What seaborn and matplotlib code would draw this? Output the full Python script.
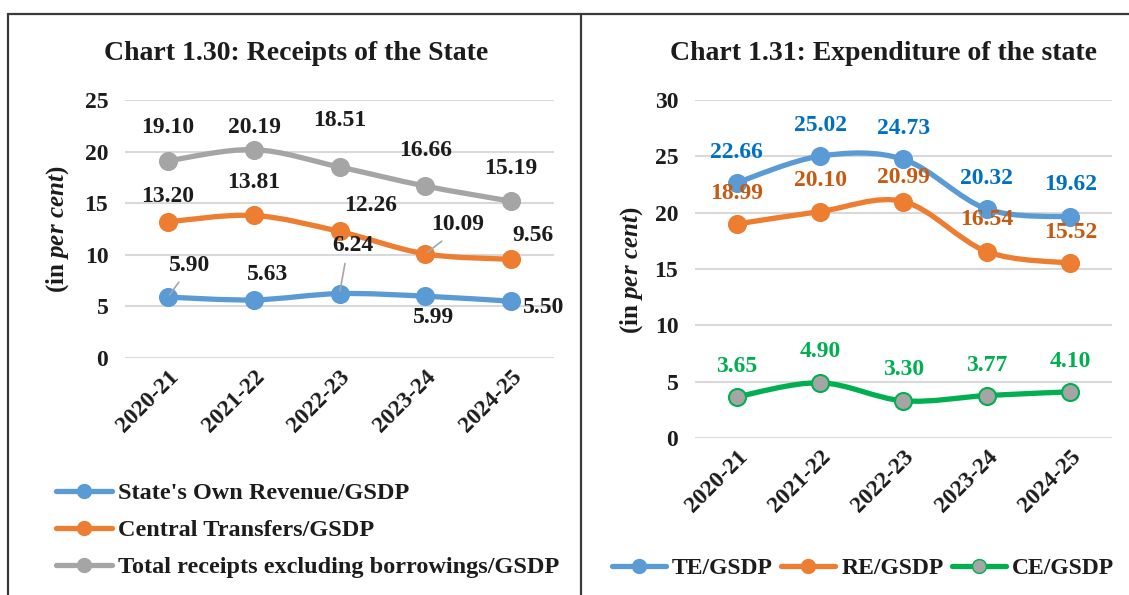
import numpy as np
import matplotlib
matplotlib.use("Agg")
import matplotlib.pyplot as plt
import seaborn as sns
from matplotlib.path import Path
from matplotlib.patches import PathPatch
from matplotlib.lines import Line2D

# -----------------------------
# Data
# -----------------------------
years = ["2020-21", "2021-22", "2022-23", "2023-24", "2024-25"]

own_revenue = [5.90, 5.63, 6.24, 5.99, 5.50]
central_transfers = [13.20, 13.81, 12.26, 10.09, 9.56]
total_receipts = [19.10, 20.19, 18.51, 16.66, 15.19]

te_gsdp = [22.66, 25.02, 24.73, 20.32, 19.62]
re_gsdp = [18.99, 20.10, 20.99, 16.54, 15.52]
ce_gsdp = [3.65, 4.90, 3.30, 3.77, 4.10]

# -----------------------------
# Style
# -----------------------------
sns.set_style("white")
plt.rcParams['font.family'] = ['Liberation Serif', 'DejaVu Serif']
plt.rcParams['font.weight'] = 'bold'
plt.rcParams['mathtext.fontset'] = 'custom'
plt.rcParams['mathtext.it'] = 'Liberation Serif:italic:bold'
plt.rcParams['mathtext.rm'] = 'Liberation Serif:bold'

BLUE = "#5B9BD5"
ORANGE = "#ED7D31"
GRAY = "#A5A5A5"
GREEN = "#00B050"
INK = "#1c1c1c"
FS = 17


def smooth_path(ys, t=1/6):
    # Excel-like smoothed line (cubic bezier through the points)
    pts = np.column_stack([np.arange(len(ys)), ys]).astype(float)
    n = len(pts)
    verts = [pts[0]]
    codes = [Path.MOVETO]
    for i in range(n - 1):
        p0 = pts[max(i - 1, 0)]
        p1 = pts[i]
        p2 = pts[i + 1]
        p3 = pts[min(i + 2, n - 1)]
        verts += [p1 + (p2 - p0) * t, p2 - (p3 - p1) * t, p2]
        codes += [Path.CURVE4] * 3
    return Path(verts, codes)


def draw_series(ax, vals, color, face=None, z=3):
    ax.add_patch(PathPatch(smooth_path(vals), facecolor='none', edgecolor=color,
                           lw=3.8, capstyle='round', zorder=z))
    sns.scatterplot(x=np.arange(len(vals)), y=vals, ax=ax, s=150,
                    color=face or color, edgecolor=color, linewidth=1.5,
                    zorder=z + 1, legend=False)


def label_series(ax, vals, offsets, color, leaders=()):
    for i, (v, (dx, dy)) in enumerate(zip(vals, offsets)):
        kw = {}
        if i in leaders:
            kw['arrowprops'] = dict(arrowstyle='-', color='#A6A6A6', lw=1.2,
                                    shrinkA=3, shrinkB=2, relpos=(0.35, 0.0))
        ax.annotate(f"{v:.2f}", (i, v), xytext=(dx, dy), textcoords='offset pixels',
                    ha='center', va='center', fontsize=FS, fontweight='bold',
                    color=color, zorder=6, **kw)


def style_axes(ax, ymax):
    ax.set_xlim(-0.5, len(years) - 0.5)
    ax.set_ylim(0, ymax)
    ax.set_yticks(np.arange(0, ymax + 1, 5))
    ax.set_xticks(np.arange(len(years)))
    ax.set_xticklabels(years, rotation=45, ha='right', rotation_mode='anchor')
    ax.tick_params(axis='both', length=0, labelsize=FS, labelcolor=INK)
    ax.tick_params(axis='y', pad=12)
    ax.tick_params(axis='x', pad=6)
    for lab in ax.get_xticklabels() + ax.get_yticklabels():
        lab.set_fontweight('bold')
    ax.grid(axis='y', color='#D9D9D9', lw=1.5)
    ax.set_axisbelow(True)
    sns.despine(ax=ax, left=True, bottom=True)
    ax.set_xlabel("")
    ax.set_ylabel("")


fig = plt.figure(figsize=(11.29, 5.95), dpi=100)

# -----------------------------
# Chart 1.30
# -----------------------------
ax1 = fig.add_axes([125 / 1129, 1 - 358 / 595, 429 / 1129, 258 / 595])
draw_series(ax1, own_revenue, BLUE, z=5)
draw_series(ax1, central_transfers, ORANGE, z=4)
draw_series(ax1, total_receipts, GRAY, z=3)
style_axes(ax1, 25)

label_series(ax1, total_receipts, [(0, 33), (1, 22), (0, 46), (0, 36), (0, 33)], INK)
label_series(ax1, central_transfers, [(0, 25), (0, 33), (31, 26), (32, 29), (22, 24)], INK,
             leaders=(3,))
label_series(ax1, own_revenue, [(22, 32), (14, 25), (13, 48), (8, -21), (33, -6)], INK,
             leaders=(0, 2))

h1 = [Line2D([], [], color=c, lw=3.8, marker='o', markersize=10, markerfacecolor=c,
             markeredgecolor=c) for c in (BLUE, ORANGE, GRAY)]
fig.legend(h1, ["State's Own Revenue/GSDP", "Central Transfers/GSDP",
                "Total receipts excluding borrowings/GSDP"],
           loc='upper left', bbox_to_anchor=(56 / 1129, 1 - 482 / 595), frameon=False,
           fontsize=17.5, handlelength=2.3, handletextpad=0.25, labelspacing=0.62,
           labelcolor=INK, borderaxespad=0, borderpad=0)

fig.text(296 / 1129, 1 - 54 / 595, "Chart 1.30: Receipts of the State", ha='center',
         va='center', fontsize=20, fontweight='bold', color=INK)
fig.text(58 / 1129, 1 - 229 / 595, r"(in $per\ cent$)", rotation=90, ha='center',
         va='center', fontsize=18, fontweight='bold', color=INK)

# -----------------------------
# Chart 1.31
# -----------------------------
ax2 = fig.add_axes([695 / 1129, 1 - 438 / 595, 417 / 1129, 338 / 595])
draw_series(ax2, te_gsdp, BLUE, z=4)
draw_series(ax2, re_gsdp, ORANGE, z=3)
draw_series(ax2, ce_gsdp, GREEN, face=GRAY, z=3)
style_axes(ax2, 30)

label_series(ax2, te_gsdp, [(0, 30), (0, 31), (0, 31), (0, 31), (0, 32)], "#0070C0")
label_series(ax2, re_gsdp, [(0, 31), (0, 31), (0, 24), (0, 32), (0, 31)], "#C55A11")
label_series(ax2, ce_gsdp, [(0, 30), (0, 31), (0, 31), (0, 30), (0, 30)], GREEN)

h2 = [Line2D([], [], color=c, lw=3.8, marker='o', markersize=10, markerfacecolor=f,
             markeredgecolor=c) for c, f in ((BLUE, BLUE), (ORANGE, ORANGE), (GREEN, GRAY))]
fig.legend(h2, ["TE/GSDP", "RE/GSDP", "CE/GSDP"], loc='center',
           bbox_to_anchor=(863 / 1129, 1 - 568 / 595), ncol=3, frameon=False,
           fontsize=FS, handlelength=2.3, handletextpad=0.25, columnspacing=0.35,
           labelcolor=INK, borderaxespad=0, borderpad=0)

fig.text(883 / 1129, 1 - 54 / 595, "Chart 1.31: Expenditure of the state", ha='center',
         va='center', fontsize=20, fontweight='bold', color=INK)
fig.text(632 / 1129, 1 - 270 / 595, r"(in $per\ cent$)", rotation=90, ha='center',
         va='center', fontsize=18, fontweight='bold', color=INK)

# -----------------------------
# Frame
# -----------------------------
frame = dict(color='#3a3a3a', lw=1.6, transform=fig.transFigure)
fig.add_artist(Line2D([8 / 1129, 1], [1 - 14 / 595, 1 - 14 / 595], **frame))
fig.add_artist(Line2D([8 / 1129, 8 / 1129], [0, 1 - 14 / 595], **frame))
fig.add_artist(Line2D([581 / 1129, 581 / 1129], [0, 1 - 14 / 595], **frame))

fig.savefig("out.png", dpi=100, facecolor='white')
